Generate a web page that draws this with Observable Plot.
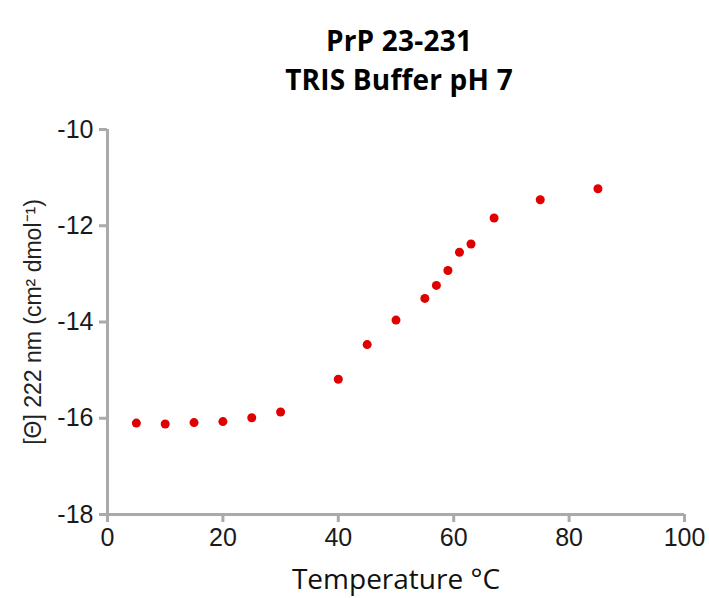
<!DOCTYPE html>
<html><head><meta charset="utf-8">
<script src="https://cdn.jsdelivr.net/npm/d3@7"></script>
<script src="https://cdn.jsdelivr.net/npm/@observablehq/plot@0.6"></script>
<style>
body{margin:0;background:#fff;}
#title{width:709px;height:100px;box-sizing:border-box;padding-top:21px;padding-left:89px;text-align:center;font-family:"Open Sans",sans-serif;font-weight:700;font-size:28px;letter-spacing:0.2px;color:#000;}
#title div{height:39px;line-height:39px;}
</style></head><body>
<div id="title"><div>PrP 23-231</div><div>TRIS Buffer pH 7</div></div>
<div id="chart"></div>
<script>
const temperature = [5,10,15,20,25,30,40,45,50,55,57,59,61,63,67,75,85];
const ellipticity = [-16.10,-16.12,-16.09,-16.07,-15.99,-15.87,-15.19,-14.47,-13.96,-13.51,-13.24,-12.93,-12.55,-12.38,-11.84,-11.46,-11.23];
const xTicks = [0,20,40,60,80,100];
const yTicks = [-18,-16,-14,-12,-10];
const data = temperature.map((t,i)=>({t, v: ellipticity[i]}));
const axisColor = "#aaaaaa";
const plot = Plot.plot({
  width: 709, height: 498,
  marginLeft: 107, marginRight: 25, marginTop: 29, marginBottom: 84,
  style: {fontFamily: "'Liberation Sans', Arial, sans-serif", color: "#1a1a1a", background: "#fff"},
  x: {domain: [0,100]},
  y: {domain: [-18,-10]},
  marks: [
    Plot.ruleX([0], {stroke: axisColor, strokeWidth: 3}),
    Plot.ruleY([-18], {stroke: axisColor, strokeWidth: 3}),
    Plot.axisX({ticks: xTicks, tickSize: 8, tickPadding: 6, stroke: axisColor, strokeWidth: 3, fontSize: 25, tickFormat: d => String(d), label: null}),
    Plot.axisY({ticks: yTicks, tickSize: 8, tickPadding: 6, stroke: axisColor, strokeWidth: 3, fontSize: 25, tickFormat: d => String(d), label: null}),
    Plot.text(["Temperature °C"], {frameAnchor: "bottom", dy: 74, fontSize: 28, fontFamily: "Open Sans, sans-serif", fill: "#111"}),
    Plot.text(["[Θ] 222 nm (cm² dmol⁻¹)"], {frameAnchor: "left", textAnchor: "middle", dx: -74, rotate: -90, fontSize: 23, fontFamily: "'Liberation Sans', Arial, sans-serif", fill: "#222"}),
    Plot.dot(data, {x: "t", y: "v", r: 4.5, fill: "#e00000", stroke: "none"})
  ]
});
document.getElementById("chart").appendChild(plot);
</script>
</body></html>
